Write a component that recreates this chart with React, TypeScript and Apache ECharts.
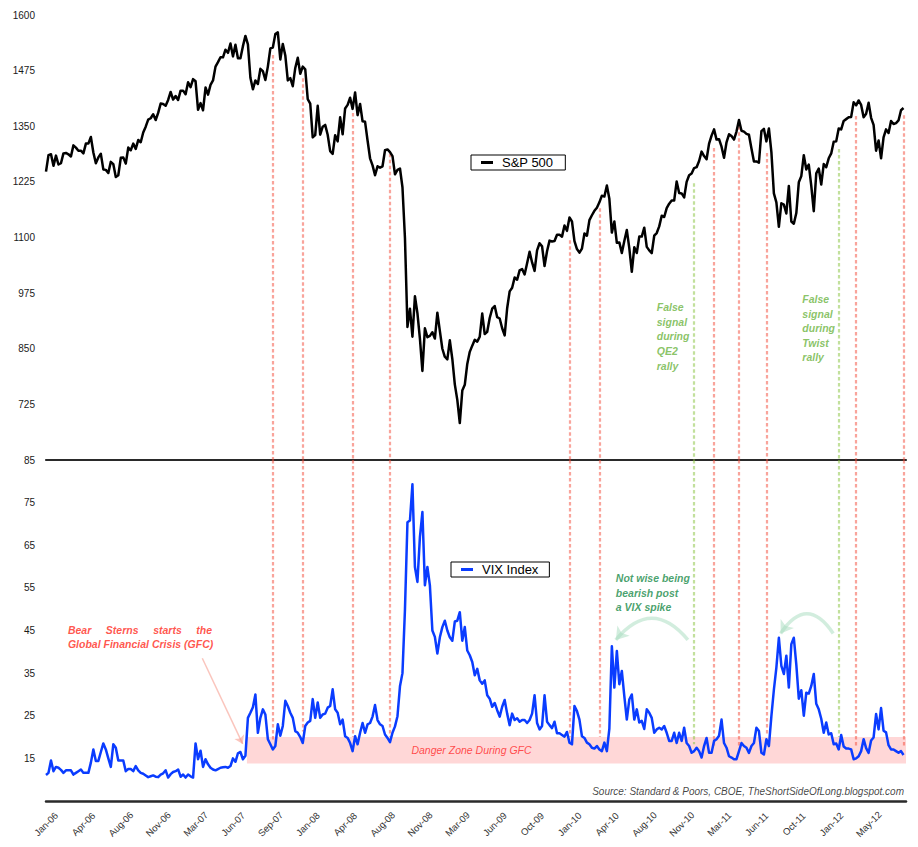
import { useEffect, useRef } from 'react'
import * as echarts from 'echarts'

// ── x axis: one category per week (0 = first week of Jan-06), a label every 15 weeks
const TICK_STEP = 15
const TICK_LABELS = [
  'Jan-06', 'Apr-06', 'Aug-06', 'Nov-06', 'Mar-07', 'Jun-07', 'Sep-07', 'Jan-08',
  'Apr-08', 'Aug-08', 'Nov-08', 'Mar-09', 'Jun-09', 'Oct-09', 'Jan-10', 'Apr-10',
  'Aug-10', 'Nov-10', 'Mar-11', 'Jun-11', 'Oct-11', 'Jan-12', 'May-12',
]
const LAST_WEEK = 345

// ── S&P 500, weekly
const SP500 = [
  1248, 1285, 1287, 1261, 1284, 1264, 1267, 1289, 1290, 1287, 1282, 1307, 1302, 1295, 1295, 1289, 1311, 1311, 1326, 1291,
  1267, 1280, 1288, 1253, 1252, 1245, 1270, 1265, 1236, 1240, 1279, 1280, 1266, 1302, 1296, 1311, 1299, 1319, 1314, 1336,
  1349, 1365, 1368, 1377, 1364, 1380, 1401, 1400, 1396, 1409, 1427, 1410, 1418,
  // 2007
  1409, 1430, 1430, 1422, 1449, 1438, 1456, 1451, 1387, 1402, 1386, 1437, 1421, 1443, 1453, 1484, 1494, 1505, 1505, 1522,
  1515, 1536, 1507, 1533, 1503, 1503, 1530, 1553, 1534, 1459, 1433, 1453, 1445, 1479, 1474, 1454, 1484, 1525, 1527, 1557,
  1561, 1500, 1535, 1509, 1453, 1458, 1440, 1481, 1504, 1468, 1484, 1478,
  // 2008
  1411, 1401, 1325, 1330, 1396, 1331, 1349, 1353, 1331, 1294, 1288, 1330, 1316, 1370, 1332, 1390, 1398, 1414, 1389, 1426,
  1375, 1400, 1361, 1360, 1318, 1278, 1262, 1240, 1260, 1257, 1260, 1296, 1298, 1292, 1283, 1242, 1252, 1255, 1213, 1099,
  899, 940, 877, 968, 930, 873, 800, 896, 876, 879, 887, 873,
  // 2009
  931, 890, 850, 832, 826, 869, 827, 770, 735, 683, 756, 769, 816, 843, 857, 870, 866, 877, 929, 883,
  888, 919, 940, 946, 921, 918, 896, 880, 941, 979, 987, 1010, 1005, 1026, 1029, 1017, 1042, 1068, 1044, 1025,
  1071, 1087, 1080, 1036, 1069, 1093, 1091, 1092, 1106, 1106, 1102, 1127, 1115,
  // 2010
  1145, 1136, 1092, 1074, 1066, 1075, 1109, 1104, 1139, 1150, 1160, 1167, 1179, 1194, 1192, 1217, 1187, 1111, 1136, 1088,
  1089, 1065, 1092, 1117, 1076, 1023, 1078, 1065, 1102, 1102, 1122, 1079, 1071, 1065, 1104, 1110, 1125, 1149, 1146, 1166,
  1176, 1183, 1183, 1226, 1200, 1199, 1190, 1225, 1240, 1244, 1256, 1258,
  // 2011
  1272, 1293, 1283, 1276, 1311, 1329, 1343, 1320, 1321, 1304, 1279, 1314, 1332, 1328, 1320, 1338, 1364, 1340, 1338, 1333,
  1331, 1300, 1271, 1271, 1268, 1339, 1344, 1316, 1345, 1292, 1199, 1179, 1124, 1177, 1174, 1154, 1216, 1136, 1131, 1155,
  1224, 1238, 1285, 1253, 1264, 1216, 1159, 1244, 1255, 1219, 1265, 1258,
  // 2012
  1278, 1289, 1315, 1316, 1345, 1343, 1362, 1366, 1370, 1371, 1404, 1397, 1408, 1398, 1370, 1378, 1403, 1369, 1353, 1295,
  1318, 1278, 1325, 1343, 1335, 1362, 1355, 1357, 1363, 1386, 1391,
]

// ── VIX, weekly
const VIX = [
  11.1, 11.6, 14.5, 12.0, 13.0, 12.8, 12.3, 11.6, 12.2, 12.2, 12.2, 11.2, 11.6, 12.0, 12.4, 11.6, 11.6, 11.6, 14.0, 17.1,
  14.4, 14.4, 16.5, 18.5, 17.1, 15.0, 13.0, 18.3, 17.5, 14.5, 14.5, 14.5, 12.0, 12.5, 12.5, 12.0, 13.2, 12.2, 11.6, 11.4,
  11.0, 10.6, 10.8, 11.0, 10.7, 10.6, 11.2, 11.5, 12.2, 10.5, 11.3, 11.8, 12.0,
  // 2007
  12.4, 10.7, 11.2, 10.5, 11.2, 10.8, 10.5, 18.5, 14.8, 16.8, 13.0, 14.8, 13.6, 12.8, 12.4, 12.2, 12.5, 12.8, 12.9, 13.0,
  12.8, 13.2, 15.0, 14.2, 16.2, 16.5, 14.8, 15.6, 24.5, 25.7, 27.0, 30.0, 21.0, 24.5, 26.5, 25.3, 19.5, 18.3, 17.1, 17.9,
  23.0, 20.3, 22.6, 28.5, 27.3, 25.7, 24.5, 21.4, 21.0, 20.0, 18.6, 22.6,
  // 2008
  23.4, 23.8, 28.9, 24.5, 28.1, 24.5, 25.3, 25.5, 26.9, 27.3, 31.2, 26.5, 25.7, 23.0, 24.1, 20.2, 19.8, 18.6, 16.7, 20.2,
  18.3, 21.0, 23.3, 21.0, 23.0, 23.3, 24.8, 27.5, 24.0, 23.0, 22.6, 20.6, 19.8, 18.8, 21.0, 22.5, 24.9, 31.9, 35.0, 49.9,
  70.4, 70.8, 79.3, 59.9, 56.4, 66.9, 72.8, 55.6, 59.9, 55.6, 45.0, 43.5,
  // 2009
  39.6, 43.4, 45.8, 47.3, 45.0, 43.4, 42.6, 47.1, 47.3, 49.3, 42.6, 45.8, 40.3, 39.2, 37.6, 34.5, 36.0, 33.3, 32.5, 33.3,
  29.8, 29.0, 27.1, 28.0, 26.3, 24.8, 27.1, 28.7, 25.5, 22.8, 25.5, 24.0, 24.4, 23.6, 24.0, 24.0, 23.3, 24.0, 25.5, 29.8,
  23.3, 21.8, 22.6, 29.8, 23.6, 22.8, 22.1, 23.6, 20.9, 20.9, 20.5, 20.1, 21.2,
  // 2010
  18.7, 18.3, 27.3, 26.1, 24.1, 20.2, 19.8, 18.7, 18.3, 17.5, 17.3, 17.9, 17.1, 16.7, 18.7, 16.7, 22.0, 41.3, 31.6, 40.2,
  32.4, 35.5, 29.6, 24.1, 28.8, 30.0, 24.1, 26.5, 23.4, 23.8, 21.9, 26.5, 25.7, 24.5, 21.0, 21.8, 22.2, 21.8, 22.6, 21.0,
  19.1, 19.1, 21.0, 18.6, 21.0, 19.1, 22.2, 18.6, 17.9, 16.3, 16.7, 17.5,
  // 2011
  16.7, 15.2, 17.9, 19.8, 16.3, 16.3, 19.1, 19.5, 20.3, 24.1, 18.6, 17.5, 15.5, 15.2, 14.8, 14.8, 16.7, 18.6, 17.9, 17.5,
  16.3, 17.9, 18.6, 22.2, 21.4, 16.3, 15.9, 19.5, 17.9, 24.9, 31.1, 36.3, 43.3, 36.7, 34.8, 39.1, 31.6, 41.8, 43.3, 37.0,
  29.0, 31.0, 25.0, 30.4, 30.2, 32.0, 34.8, 27.8, 26.5, 24.3, 21.0, 23.4,
  // 2012
  20.6, 20.9, 18.3, 18.5, 17.1, 20.5, 17.8, 17.3, 17.3, 17.1, 14.8, 15.0, 15.5, 16.7, 19.5, 17.4, 16.3, 19.2, 19.9, 25.4,
  21.8, 26.8, 21.5, 21.1, 18.1, 17.1, 17.1, 16.7, 16.3, 16.7, 15.8,
]

// ── signal lines (week, kind, where they start on the S&P, where they stop on the VIX)
const SIGNAL_WEEKS = [91, 103, 123, 138, 210, 222, 260, 268, 278, 289, 318, 325, 344]
const SIGNAL_KIND = ['bear', 'bear', 'bear', 'bear', 'bear', 'bear', 'false', 'bear', 'bear', 'bear', 'false', 'bear', 'bear']
const SIGNAL_SPX_TOP = [1510, 1458, 1380, 1288, 1094, 1166, 1222, 1301, 1350, 1290, 1299, 1373, 1375]
const SIGNAL_VIX_END = [18.9, 21.3, 20.1, 20.1, 20.1, 20.1, 18.3, 17.9, 17.6, 20.5, 20.0, 17.6, 17.9]

// danger zone band on the VIX panel
const DANGER_FROM = 80.6
const DANGER_LOW = 13.8
const DANGER_HIGH = 20

const SPX_MIN = 600
const SPX_MAX = 1600
const VIX_MIN = 5
const VIX_MAX = 85

const FONT = 'Liberation Sans, Arial, sans-serif'
const RED_DASH = '#f44a38'
const GREEN_DASH = '#86c23a'

function note(value: number[], text: string, style: Record<string, unknown>) {
  return {
    value,
    label: {
      show: true,
      position: [0, 0],
      formatter: text,
      fontFamily: FONT,
      fontSize: 10.5,
      ...style,
    },
  }
}

function buildOption() {
  const spData = SP500.map((v, i) => [i, v])
  const vixData = VIX.map((v, i) => [i, v])

  const signalStyle = (i: number) => ({
    color: SIGNAL_KIND[i] === 'false' ? GREEN_DASH : RED_DASH,
    width: 2.2,
    type: [3.5, 2.5],
  })

  return {
    animation: false,
    backgroundColor: '#ffffff',
    textStyle: { fontFamily: FONT },
    grid: [
      { left: 46, right: 12, top: 15, height: 445 },
      { left: 46, right: 12, top: 460, height: 341 },
    ],
    legend: [
      {
        data: [{ name: 'S&P 500', icon: 'rect' }],
        left: 471, top: 155,
        itemWidth: 12, itemHeight: 3,
        padding: [1, 12, 1, 10],
        borderColor: '#000', borderWidth: 1, borderRadius: 0,
        backgroundColor: '#fff',
        selectedMode: false,
        textStyle: { fontSize: 13, color: '#000', fontFamily: FONT, padding: [0, 0, 0, 4] },
      },
      {
        data: [{ name: 'VIX Index', icon: 'rect' }],
        left: 451, top: 562,
        itemWidth: 12, itemHeight: 3,
        padding: [1, 11, 1, 10],
        borderColor: '#000', borderWidth: 1, borderRadius: 0,
        backgroundColor: '#fff',
        selectedMode: false,
        textStyle: { fontSize: 13, color: '#000', fontFamily: FONT, padding: [0, 0, 0, 4] },
      },
    ],
    xAxis: [
      {
        type: 'value', gridIndex: 0, min: 0, max: LAST_WEEK, interval: TICK_STEP,
        axisLine: { show: true, onZero: false, lineStyle: { color: '#2a2a2a', width: 2.2 } },
        axisTick: { show: false }, axisLabel: { show: false }, splitLine: { show: false },
      },
      {
        type: 'value', gridIndex: 1, min: 0, max: LAST_WEEK, interval: TICK_STEP,
        axisLine: { show: true, onZero: false, lineStyle: { color: '#2a2a2a', width: 2.5 } },
        axisTick: { show: false }, splitLine: { show: false },
        axisLabel: {
          rotate: 45, align: 'center', verticalAlign: 'middle', margin: 23,
          fontSize: 9.5, color: '#333', fontFamily: FONT,
          formatter: (v: number) => (v % TICK_STEP === 0 ? TICK_LABELS[v / TICK_STEP] ?? '' : ''),
        },
      },
    ],
    yAxis: [
      {
        type: 'value', gridIndex: 0, min: SPX_MIN, max: SPX_MAX, interval: 125,
        axisLine: { show: false }, axisTick: { show: false }, splitLine: { show: false },
        axisLabel: {
          showMinLabel: false, margin: 11, fontSize: 10, color: '#1a1a1a', fontFamily: FONT,
          formatter: (v: number) => String(v),
        },
      },
      {
        type: 'value', gridIndex: 1, min: VIX_MIN, max: VIX_MAX, interval: 10,
        axisLine: { show: false }, axisTick: { show: false }, splitLine: { show: false },
        axisLabel: {
          showMinLabel: false, margin: 11, fontSize: 10, color: '#1a1a1a', fontFamily: FONT,
          formatter: (v: number) => String(v),
        },
      },
    ],
    series: [
      {
        name: 'S&P 500', type: 'line', xAxisIndex: 0, yAxisIndex: 0,
        data: spData, symbol: 'none', z: 4,
        color: '#000',
        lineStyle: { color: '#000', width: 2.5, join: 'round' },
      },
      {
        name: 'VIX Index', type: 'line', xAxisIndex: 1, yAxisIndex: 1,
        data: vixData, symbol: 'none', z: 4,
        color: '#0a3cff',
        lineStyle: { color: '#0a3cff', width: 2.5, join: 'round' },
        markArea: {
          silent: true,
          itemStyle: { color: '#ffd7d7' },
          data: [[{ coord: [DANGER_FROM, DANGER_LOW] }, { coord: [LAST_WEEK, DANGER_HIGH] }]],
        },
      },
      // signal lines, S&P part
      {
        type: 'lines', coordinateSystem: 'cartesian2d', xAxisIndex: 0, yAxisIndex: 0,
        silent: true, z: 3, symbol: 'none',
        data: SIGNAL_WEEKS.map((w, i) => ({
          coords: [[w, SIGNAL_SPX_TOP[i]], [w, SPX_MIN]],
          lineStyle: signalStyle(i),
        })),
      },
      // signal lines, VIX part
      {
        type: 'lines', coordinateSystem: 'cartesian2d', xAxisIndex: 1, yAxisIndex: 1,
        silent: true, z: 3, symbol: 'none',
        data: SIGNAL_WEEKS.map((w, i) => ({
          coords: [[w, VIX_MAX], [w, SIGNAL_VIX_END[i]]],
          lineStyle: signalStyle(i),
        })),
      },
      // Bear Stearns arrow
      {
        type: 'lines', coordinateSystem: 'cartesian2d', xAxisIndex: 1, yAxisIndex: 1,
        silent: true, z: 5, symbol: ['none', 'arrow'], symbolSize: 8,
        data: [{ coords: [[62.7, 38.5], [78.9, 18.4]], lineStyle: { color: '#f58c7c', width: 1.5 } }],
      },
      // curved arrows toward the VIX spikes
      {
        type: 'lines', coordinateSystem: 'cartesian2d', xAxisIndex: 1, yAxisIndex: 1,
        silent: true, z: 5, symbol: ['none', 'arrow'], symbolSize: 12,
        data: [
          { coords: [[257.5, 42.8], [228.6, 42.8]], lineStyle: { color: '#a6dbbd', width: 3.5, curveness: -0.6 } },
          { coords: [[315.8, 44.3], [294.7, 44.3]], lineStyle: { color: '#a6dbbd', width: 3.5, curveness: -0.75 } },
        ],
      },
      // notes on the S&P panel
      {
        type: 'scatter', xAxisIndex: 0, yAxisIndex: 0, symbolSize: 0, silent: true, z: 6,
        data: [
          note([245, 961], 'False\nsignal\nduring\nQE2\nrally', {
            color: '#6cb43f', fontStyle: 'italic', fontWeight: 'bold', lineHeight: 14.8, align: 'left', verticalAlign: 'top',
          }),
          note([303.4, 977], 'False\nsignal\nduring\nTwist\nrally', {
            color: '#6cb43f', fontStyle: 'italic', fontWeight: 'bold', lineHeight: 14.4, align: 'left', verticalAlign: 'top',
          }),
        ],
      },
      // notes on the VIX panel
      {
        type: 'scatter', xAxisIndex: 1, yAxisIndex: 1, symbolSize: 0, silent: true, z: 6,
        data: [
          note([8.8, 46.8], 'Bear     Sterns     starts     the\nGlobal Financial Crisis (GFC)', {
            color: '#ff2b1c', fontStyle: 'italic', fontWeight: 'bold', lineHeight: 14, align: 'left', verticalAlign: 'top',
          }),
          note([170.7, 17.0], 'Danger Zone During GFC', {
            color: '#ff2626', fontStyle: 'italic', align: 'center', verticalAlign: 'middle',
          }),
          note([228.6, 58.9], 'Not wise being\nbearish post\na VIX spike', {
            color: '#178a48', fontStyle: 'italic', fontWeight: 'bold', lineHeight: 14.2, align: 'left', verticalAlign: 'top',
          }),
          note([344.2, 7.2], 'Source: Standard & Poors, CBOE, TheShortSideOfLong.blogspot.com', {
            color: '#111', fontStyle: 'italic', fontSize: 10, align: 'right', verticalAlign: 'middle',
          }),
        ],
      },
    ],
  }
}

export default function App() {
  const chartRef = useRef<HTMLDivElement>(null)

  useEffect(() => {
    document.body.style.margin = '0'
    if (!chartRef.current) return
    const chart = echarts.init(chartRef.current, null, { renderer: 'svg' })
    chart.setOption(buildOption() as echarts.EChartsOption)
    return () => chart.dispose()
  }, [])

  return <div ref={chartRef} style={{ width: 918, height: 847, background: '#fff' }} />
}
